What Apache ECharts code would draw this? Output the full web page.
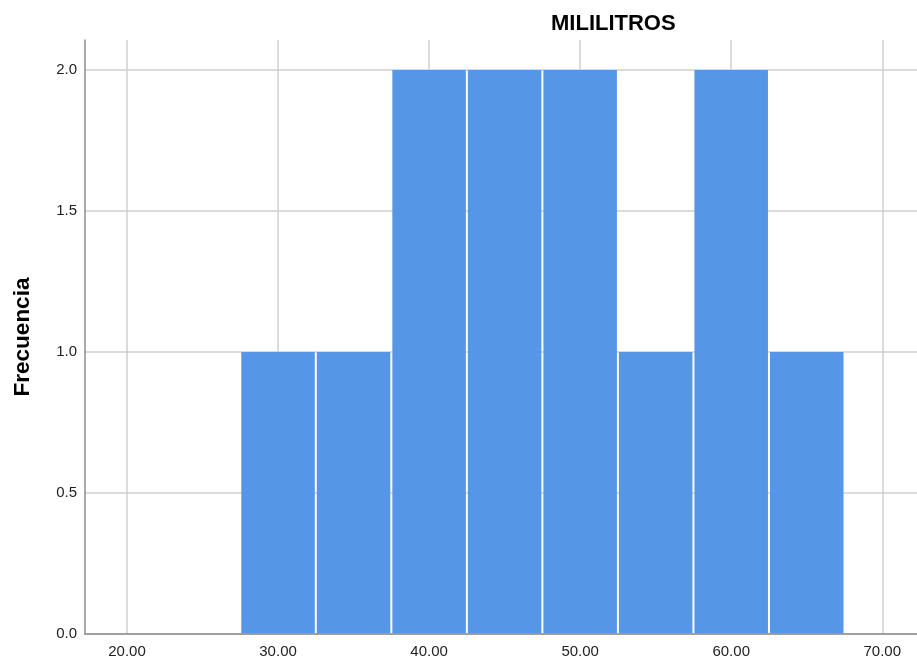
<!DOCTYPE html>
<html><head><meta charset="utf-8">
<script src="https://cdn.jsdelivr.net/npm/echarts@6/dist/echarts.min.js"></script>
<style>html,body{margin:0;padding:0;background:#fff}#c{width:917px;height:661px}</style>
</head><body><div id="c"></div>
<script>
const binCenters = [30, 35, 40, 45, 50, 55, 60, 65];
const counts = [1, 1, 2, 2, 2, 1, 2, 1];
const binWidth = 5;
const xTicks = [20, 30, 40, 50, 60, 70];
const yTicks = [0, 0.5, 1.0, 1.5, 2.0];
const title = 'MILILITROS';
const yName = 'Frecuencia';

const chart = echarts.init(document.getElementById('c'));
chart.setOption({
  animation: false,
  title: { text: title, left: 546, top: 8,
    textStyle: { fontFamily: 'Liberation Sans', fontWeight: 'bold', fontSize: 22, color: '#000' } },
  grid: { left: 85, right: 0, top: 40, bottom: 27 },
  xAxis: {
    type: 'value', min: 17.22, max: 72.3,
    axisLine: { show: true, lineStyle: { color: '#8c8c8c', width: 1.5 } },
    axisTick: { show: false, customValues: xTicks },
    axisLabel: { customValues: xTicks, formatter: v => v.toFixed(2), fontFamily: 'Liberation Sans', fontSize: 15, color: '#222', margin: 10 },
    splitLine: { show: true, lineStyle: { color: '#cfcfcf', width: 1.5 } }
  },
  yAxis: {
    type: 'value', min: 0, max: 2.106,
    name: yName, nameLocation: 'middle', nameGap: 51, nameRotate: 90,
    nameTextStyle: { fontFamily: 'Liberation Sans', fontWeight: 'bold', fontSize: 22.5, color: '#000' },
    axisLine: { show: true, lineStyle: { color: '#8c8c8c', width: 1.5 } },
    axisTick: { show: false, customValues: yTicks },
    axisLabel: { customValues: yTicks, formatter: v => v.toFixed(1), fontFamily: 'Liberation Sans', fontSize: 15, color: '#222', margin: 8 },
    splitLine: { show: true, lineStyle: { color: '#cfcfcf', width: 1.5 } }
  },
  series: [{
    type: 'custom',
    data: binCenters.map((c, i) => [c, counts[i]]),
    renderItem: function (params, api) {
      const c = api.value(0), h = api.value(1);
      const p0 = api.coord([c - binWidth / 2, 0]);
      const p1 = api.coord([c + binWidth / 2, h]);
      return { type: 'rect',
        shape: { x: p0[0] + 1, y: p1[1], width: p1[0] - p0[0] - 2, height: p0[1] - p1[1] - 0.75 },
        style: { fill: '#5596e6' } };
    }
  }]
});
</script></body></html>
